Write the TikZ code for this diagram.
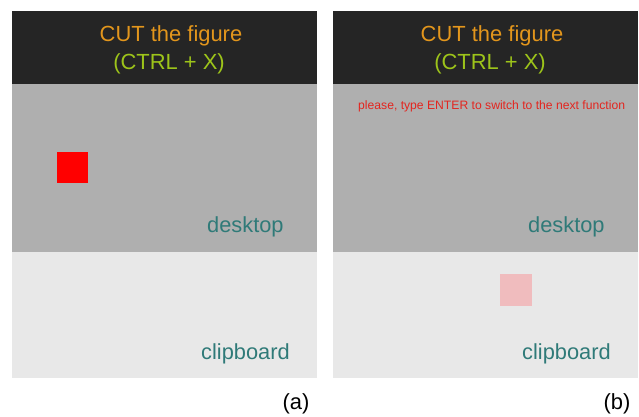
\documentclass[tikz,border=0pt]{standalone}
\usepackage{fontspec}
\setmainfont{Liberation Sans}
\definecolor{bandc}{HTML}{252525}
\definecolor{deskc}{HTML}{AFAFAF}
\definecolor{clipc}{HTML}{E8E8E8}
\definecolor{titlec}{HTML}{E3961C}
\definecolor{keyc}{HTML}{9DC41A}
\definecolor{labc}{HTML}{2F7A78}
\definecolor{msgc}{HTML}{E3251F}
\definecolor{pinkc}{RGB}{240,188,190}
\begin{document}
\begin{tikzpicture}[x=1bp,y=-1bp,
  area/.style={anchor=north west,inner sep=0,outer sep=0,draw=none},
  title/.style={anchor=base,inner sep=0,font=\fontsize{22}{24}\selectfont,text=titlec},
  keys/.style={anchor=base,inner sep=0,font=\fontsize{22}{24}\selectfont,text=keyc},
  lab/.style={anchor=base west,inner sep=0,font=\fontsize{21.9}{24}\selectfont,text=labc},
  tag/.style={anchor=base,inner sep=0,font=\fontsize{22}{24}\selectfont,text=black},
  msg/.style={anchor=base west,inner sep=0,font=\fontsize{12.2}{14}\selectfont,text=msgc}]
\useasboundingbox (0,0) rectangle (639,416);
% left panel
\node[area,fill=bandc,minimum width=305bp,minimum height=73bp] (bandA) at (12,11) {};
\node[area,fill=deskc,minimum width=305bp,minimum height=168bp] (deskA) at (12,84) {};
\node[area,fill=clipc,minimum width=305bp,minimum height=126bp] (clipA) at (12,252) {};
\node[title] (titleA) at (171,41) {CUT the figure};
\node[keys] (keysA) at (169,69) {(CTRL + X)};
\node[area,fill=red,minimum width=31bp,minimum height=31bp] (sqA) at (57,152) {};
\node[lab] (deskLabA) at (207,232) {desktop};
\node[lab] (clipLabA) at (201,359) {clipboard};
\node[tag] (tagA) at (296,409) {(a)};
% right panel
\node[area,fill=bandc,minimum width=305bp,minimum height=73bp] (bandB) at (333,11) {};
\node[area,fill=deskc,minimum width=305bp,minimum height=168bp] (deskB) at (333,84) {};
\node[area,fill=clipc,minimum width=305bp,minimum height=126bp] (clipB) at (333,252) {};
\node[title] (titleB) at (492,41) {CUT the figure};
\node[keys] (keysB) at (490,69) {(CTRL + X)};
\node[msg] (msgB) at (358,109) {please, type ENTER to switch to the next function};
\node[area,fill=pinkc,minimum width=32bp,minimum height=32bp] (sqB) at (500,274) {};
\node[lab] (deskLabB) at (528,232) {desktop};
\node[lab] (clipLabB) at (522,359) {clipboard};
\node[tag] (tagB) at (617,409) {(b)};
\end{tikzpicture}
\end{document}
